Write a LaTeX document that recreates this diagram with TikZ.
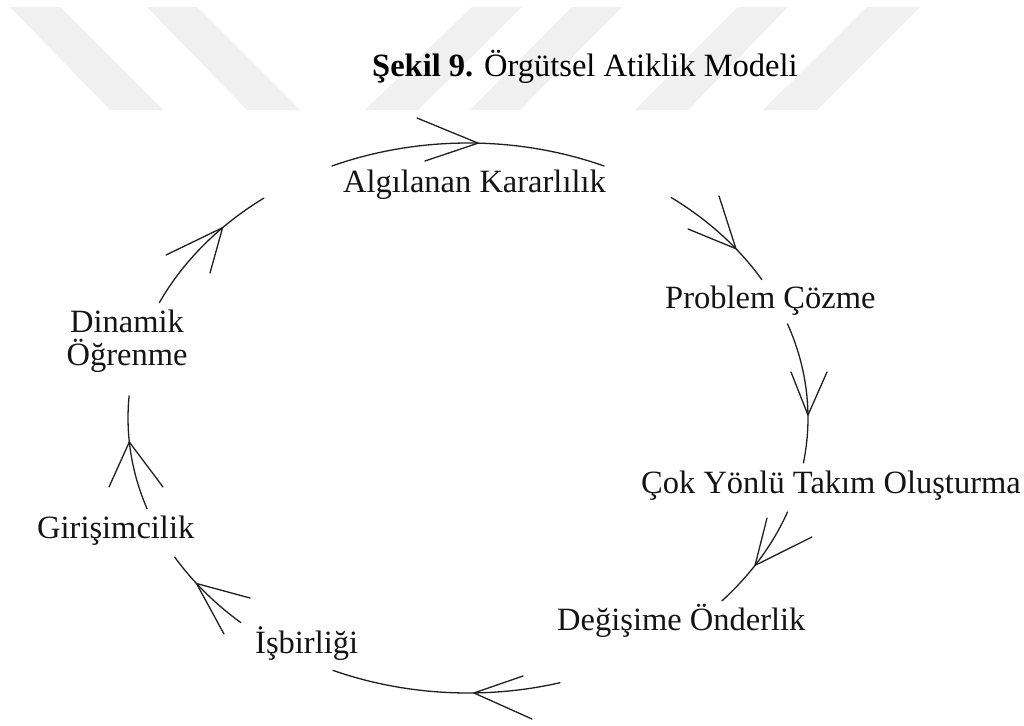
\documentclass[tikz,border=0pt]{standalone}
\usepackage{fontspec}
\setmainfont{Liberation Serif}
\begin{document}
\begin{tikzpicture}[x=1pt,y=-1pt,
  lbl/.style={font=\fontsize{32.5}{33}\selectfont, inner sep=0pt, anchor=base west, text=black!92},
  cyc/.style={line width=1.3pt, draw=black!88, line cap=round, line join=round},
  stripe/.style={fill=black!6, draw=none}]
\useasboundingbox (0,0) rectangle (1024,725);

% light diagonal stripes along the top edge
\fill[stripe] (10,7) -- (60,7) -- (163,110) -- (110,110) -- cycle;
\fill[stripe] (147,7) -- (197,7) -- (300,110) -- (247,110) -- cycle;
\fill[stripe] (472,7) -- (522,7) -- (418,110) -- (365,110) -- cycle;
\fill[stripe] (572,7) -- (622,7) -- (520,110) -- (470,110) -- cycle;
\fill[stripe] (738,7) -- (788,7) -- (688,110) -- (635,110) -- cycle;
\fill[stripe] (867,7) -- (920,7) -- (817,110) -- (763,110) -- cycle;

% title
\node[lbl, text=black] (title) at (372,76) {\textbf{Şekil 9.} Örgütsel Atiklik Modeli};

% labels around the cycle
\node[lbl] (alg) at (343,192) {Algılanan Kararlılık};
\node[lbl] (prob) at (665,308) {Problem Çözme};
\node[lbl] (takim) at (641,493) {Çok Yönlü Takım Oluşturma};
\node[lbl] (deg) at (557,630) {Değişime Önderlik};
\node[lbl] (isb) at (255,653) {İşbirliği};
\node[lbl] (gir) at (37,538) {Girişimcilik};
\node[lbl, anchor=base, align=center] (din) at (127,365) {Dinamik\\Öğrenme};

% centre of the cycle
\coordinate (C) at (468,418);

% arcs of the cycle (clockwise)
\draw[cyc] (C) ++(-155.2:340 and 275) coordinate (s1)
  arc[start angle=-155.2, end angle=-126.9, x radius=340, y radius=275] coordinate (e1);
\draw[cyc] (C) ++(-113.6:340 and 275) coordinate (s2)
  arc[start angle=-113.6, end angle=-66.4, x radius=340, y radius=275] coordinate (e2);
\draw[cyc] (C) ++(-53.3:340 and 275) coordinate (s3)
  arc[start angle=-53.3, end angle=-30.2, x radius=340, y radius=275] coordinate (e3);
\draw[cyc] (C) ++(-20:340 and 275) coordinate (s4)
  arc[start angle=-20, end angle=9.4, x radius=340, y radius=275] coordinate (e4);
\draw[cyc] (C) ++(20:340 and 275) coordinate (s5)
  arc[start angle=20, end angle=41.7, x radius=340, y radius=275] coordinate (e5);
\draw[cyc] (C) ++(74.3:340 and 275) coordinate (s6)
  arc[start angle=74.3, end angle=113.4, x radius=340, y radius=275] coordinate (e6);
\draw[cyc] (C) ++(131.9:340 and 275) coordinate (s7)
  arc[start angle=131.9, end angle=149.6, x radius=340, y radius=275] coordinate (e7);
\draw[cyc] (C) ++(160.7:340 and 275) coordinate (s8)
  arc[start angle=160.7, end angle=184.6, x radius=340, y radius=275] coordinate (e8);

% arrow tips on the arcs
\path (C) ++(-136.2:340 and 275) coordinate (t1);
\path (C) ++(-88.3:340 and 275) coordinate (t2);
\path (C) ++(-38:340 and 275) coordinate (t3);
\path (C) ++(-0.6:340 and 275) coordinate (t4);
\path (C) ++(32.4:340 and 275) coordinate (t5);
\path (C) ++(89:340 and 275) coordinate (t6);
\path (C) ++(143:340 and 275) coordinate (t7);
\path (C) ++(175:340 and 275) coordinate (t8);

% barb ends
\coordinate (b1a) at (166,255); \coordinate (b1b) at (210,273);
\coordinate (b2a) at (417,118); \coordinate (b2b) at (425,161);
\coordinate (b3a) at (719,196); \coordinate (b3b) at (688,229);
\coordinate (b4a) at (791,372); \coordinate (b4b) at (827,372);
\coordinate (b5a) at (767,518); \coordinate (b5b) at (812,537);
\coordinate (b6a) at (523,676); \coordinate (b6b) at (532,719);
\coordinate (b7a) at (250,598); \coordinate (b7b) at (224,634);
\coordinate (b8a) at (109,487); \coordinate (b8b) at (163,487);

\foreach \i in {1,...,8}
  \draw[cyc] (b\i a) -- (t\i) -- (b\i b);
\end{tikzpicture}
\end{document}
